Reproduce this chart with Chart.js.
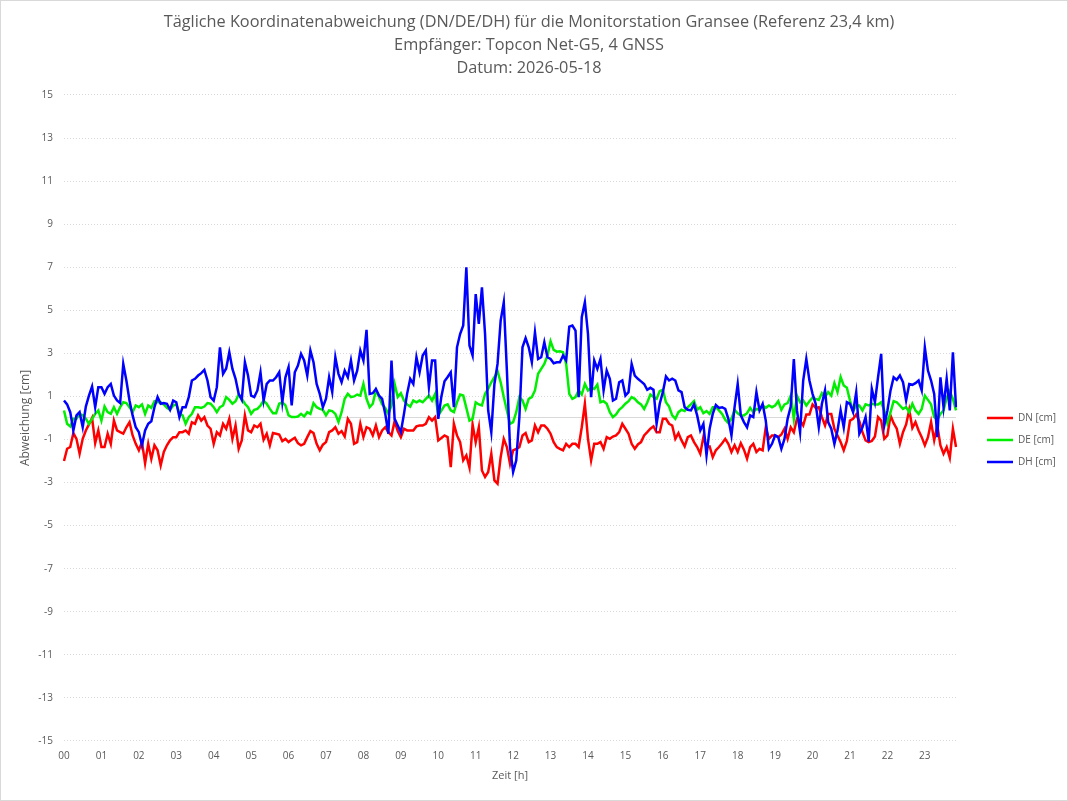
<!DOCTYPE html>
<html lang="de">
<head>
<meta charset="UTF-8">
<title>Koordinatenabweichung Gransee</title>
<script src="https://cdn.jsdelivr.net/npm/chart.js"></script>
<style>
  body { margin: 0; background: #fff; }
  #rahmen { width: 1066px; height: 799px; border: 1px solid #d9d9d9; }
</style>
</head>
<body>
<div id="rahmen"><canvas id="grafik" width="1066" height="799"></canvas></div>
<script>
// Achsenbeschriftungen
const STUNDEN = ['00','01','02','03','04','05','06','07','08','09','10','11',
                 '12','13','14','15','16','17','18','19','20','21','22','23'];
const Y_TICKS = [-15, -13, -11, -9, -7, -5, -3, -1, 0, 1, 3, 5, 7, 9, 11, 13, 15];

// Abweichungen in cm, 5-Minuten-Takt
const DN = [
  -2.0, -1.43, -1.35, -0.7, -0.97, -1.66, -0.97, -0.58, -0.3, 0.0, -1.17, -0.58,
  -1.35, -1.35, -0.73, -1.2, -0.12, -0.58, -0.66, -0.73, -0.43, -0.2, -0.81, -1.2,
  -1.5, -1.12, -2.1, -1.2, -1.9, -1.27, -1.5, -2.2, -1.58, -1.27, -1.04, -0.89,
  -0.89, -0.66, -0.66, -0.58, -0.73, -0.2, -0.27, 0.12, -0.12, 0.04, -0.35, -0.5,
  -1.2, -0.66, -0.81, -0.27, -0.5, -0.04, -0.97, -0.35, -1.43, -1.04, 0.12, -0.58,
  -0.66, -0.35, -0.43, -0.27, -1.01, -0.73, -1.27, -0.7, -0.73, -0.77, -1.07, -0.97,
  -1.12, -1.01, -0.92, -1.17, -1.27, -1.2, -0.89, -0.61, -0.7, -1.2, -1.5, -1.24,
  -1.12, -0.66, -0.58, -0.43, -0.73, -0.61, -0.86, -0.04, -0.27, -1.2, -1.12, -0.27,
  -0.89, -0.43, -0.5, -0.81, -0.35, -0.89, -0.58, -0.43, -0.66, -0.81, -0.15, -0.61,
  -0.89, -0.5, -0.58, -0.58, -0.58, -0.39, -0.35, -0.35, -0.27, 0.04, -0.12, 0.04,
  -1.04, -0.93, -0.81, -0.89, -2.28, -0.27, -0.81, -1.12, -1.97, -1.74, -2.3, -0.3,
  -1.12, -0.43, -2.44, -2.74, -2.51, -1.66, -2.9, -3.05, -1.82, -0.97, -1.35, -2.13,
  -1.5, -1.43, -1.35, -0.81, -0.7, -1.12, -1.04, -0.35, -0.66, -0.35, -0.35, -0.5,
  -0.73, -1.12, -1.35, -1.43, -1.5, -1.2, -1.35, -1.2, -1.2, -1.35, -0.43, 0.66,
  -0.97, -1.97, -1.2, -1.2, -1.12, -1.43, -0.89, -0.97, -0.86, -0.81, -0.66, -0.27,
  -0.5, -0.73, -1.2, -1.43, -1.23, -1.12, -0.81, -0.66, -0.5, -0.39, -0.66, -0.66,
  -0.04, -0.04, -0.27, -0.35, -0.97, -0.7, -1.04, -1.32, -0.89, -0.81, -1.12, -1.35,
  -1.66, -0.89, -1.35, -1.32, -1.82, -1.5, -1.35, -1.17, -0.97, -1.2, -1.58, -1.27,
  -1.58, -1.17, -1.47, -1.89, -1.35, -1.2, -1.58, -1.43, -1.5, -0.43, -0.97, -0.81,
  -0.81, -0.89, -0.77, -0.5, -0.97, -0.43, -0.66, -0.04, -0.12, -0.35, 0.16, 0.16,
  0.63, 0.47, 0.5, 0.04, -0.35, 0.19, 0.19, -0.5, -0.81, -1.12, -1.5, -1.07,
  -0.12, -0.04, 0.16, -0.15, -0.66, -1.04, -1.12, -1.07, -0.86, 0.04, -0.12, -0.97,
  -0.81, 0.12, -0.24, -0.5, -1.2, -0.66, -0.3, 0.38, -0.46, -0.19, -0.58, -0.89,
  -1.27, -0.89, -0.19, -1.04, -0.35, -1.27, -1.66, -1.35, -1.85, -0.5, -1.35
];
const DE = [
  0.35, -0.27, -0.39, -0.04, -0.04, 0.19, 0.12, -0.04, -0.27, -0.04, 0.19, 0.35,
  -0.12, 0.53, 0.27, 0.19, 0.5, 0.19, 0.5, 0.73, 0.69, 0.5, 0.27, 0.58,
  0.5, 0.63, 0.19, 0.58, 0.47, 0.78, 0.73, 0.73, 0.63, 0.47, 0.38, 0.58,
  0.63, 0.22, 0.12, -0.27, 0.04, 0.19, 0.5, 0.5, 0.47, 0.53, 0.69, 0.66,
  0.5, 0.27, 0.5, 0.58, 0.97, 0.84, 0.66, 0.78, 1.09, 0.89, 0.66, 0.5,
  0.19, 0.38, 0.42, 0.58, 0.81, 0.66, 0.42, 0.22, 0.22, 0.66, 0.73, 0.58,
  0.12, 0.04, 0.04, 0.07, 0.19, 0.07, 0.27, 0.19, 0.69, 0.5, 0.42, 0.38,
  0.12, 0.35, 0.32, 0.19, -0.19, 0.27, 0.89, 1.12, 0.97, 1.0, 1.09, 1.04,
  1.58, 0.89, 0.5, 0.66, 1.28, 0.97, 0.63, 0.47, 0.19, 0.58, 1.58, 0.97,
  1.15, 0.81, 0.63, 0.53, 0.81, 0.73, 0.81, 0.73, 0.89, 1.04, 0.81, 1.12,
  0.12, 0.34, 0.58, 0.63, 0.35, 0.27, 0.73, 1.09, 1.04, 0.47, -0.12, -0.04,
  0.73, 0.63, 0.58, 1.12, 1.35, 1.66, 1.89, 2.17, 1.66, 0.97, 0.35, -0.27,
  -0.19, 0.27, 0.97, 0.81, 0.42, 0.89, 0.97, 1.28, 2.05, 2.28, 2.51, 2.9,
  3.56, 3.16, 3.08, 3.1, 3.05, 2.51, 1.12, 0.89, 0.97, 1.28, 1.09, 1.58,
  1.28, 1.4, 1.35, 1.55, 0.73, 0.78, 0.66, 0.27, 0.04, 0.16, 0.38, 0.5,
  0.66, 0.78, 0.97, 0.89, 0.73, 0.63, 0.42, 0.72, 1.09, 0.97, 0.89, 1.24,
  1.31, 0.73, 0.53, 0.12, -0.04, 0.27, 0.38, 0.32, 0.5, 0.63, 0.78, 0.38,
  0.5, 0.22, 0.32, 0.19, 0.5, 0.5, 0.35, 0.19, -0.08, -0.24, -0.04, 0.38,
  0.22, 0.12, 0.12, 0.22, 0.47, 0.27, 0.42, 0.38, 0.58, 0.47, 0.58, 0.5,
  0.58, 0.78, 0.38, 0.63, 0.69, 1.04, -0.04, 1.04, 0.73, 0.81, 0.58, 0.78,
  0.94, 0.89, 0.84, 1.15, 0.97, 1.2, 1.04, 1.62, 1.2, 1.9, 1.51, 1.4,
  0.81, 0.32, 0.58, 0.58, 0.35, 0.63, 0.58, 0.66, 0.63, 0.63, 0.73, 0.35,
  -0.24, 0.27, 0.78, 0.73, 0.58, 0.42, 0.5, 0.27, 0.66, 0.35, 0.19, 0.42,
  1.04, 0.84, 0.63, 0.04, -0.08, 0.19, 0.35, 0.94, 1.24, 0.89, 0.35
];
const DH = [
  0.81, 0.63, 0.27, -0.58, 0.12, 0.27, -0.43, 0.53, 1.04, 1.46, 0.5, 1.43,
  1.43, 1.12, 1.43, 1.58, 1.04, 0.81, 0.69, 2.51, 1.74, 0.81, 0.12, -0.43,
  -0.66, -1.27, -0.58, -0.27, -0.15, 0.5, 0.97, 0.66, 0.69, 0.66, 0.38, 0.81,
  0.73, 0.04, 0.5, 0.5, 0.97, 1.74, 1.82, 1.97, 2.08, 2.23, 1.74, 0.97,
  0.81, 1.43, 3.28, 2.05, 2.3, 3.05, 2.28, 1.82, 1.12, 0.84, 2.59, 1.97,
  1.04, 0.97, 1.28, 2.12, 0.81, 1.58, 1.74, 1.74, 1.89, 2.12, 0.73, 1.89,
  2.36, 0.58, 2.12, 2.43, 2.98, 2.67, 1.97, 3.13, 2.59, 1.58, 1.12, 0.5,
  0.89, 1.89, 1.2, 2.82, 2.05, 1.66, 2.2, 1.89, 2.67, 1.74, 2.2, 3.13,
  2.67, 4.09, 1.12, 1.15, 1.35, 1.04, 0.89, 0.19, -0.73, 2.67, -0.04, -0.35,
  -0.66, 0.19, 1.12, 1.82, 1.58, 2.82, 2.12, 2.9, 3.13, 1.43, 2.67, 2.67,
  -0.04, 1.0, 1.7, 1.9, 2.12, 0.5, 3.28, 3.9, 4.3, 7.0, 3.36, 2.9,
  5.75, 4.37, 6.07, 3.9, 0.35, -0.66, 1.58, 2.51, 4.52, 5.37, 2.2, -1.35,
  -2.51, -1.97, 0.04, 3.28, 3.71, 3.28, 2.59, 3.98, 2.74, 2.82, 3.52, 2.82,
  2.74, 2.54, 2.59, 2.59, 2.9, 2.67, 4.24, 4.29, 4.06, 0.97, 4.68, 5.37,
  3.9, 0.97, 2.67, 2.28, 2.74, 1.28, 2.2, 1.82, 0.81, 0.89, 1.66, 1.74,
  1.04, 1.2, 2.51, 1.97, 1.82, 1.7, 1.58, 1.31, 1.4, 1.31, -0.27, 0.66,
  1.2, 1.93, 1.74, 1.82, 1.74, 1.28, 1.2, 0.5, 0.38, 0.35, 0.63, 0.12,
  -0.58, -0.27, -1.74, -0.5, 0.19, 0.6, 0.47, 0.5, 0.42, -0.04, -0.81, 0.5,
  1.58, 0.12, -0.19, -0.43, 0.12, 0.04, 1.2, 0.35, 0.66, -0.12, -1.43, -1.2,
  -0.81, -0.89, -1.43, -0.97, -0.04, 0.53, 2.74, 0.35, -0.66, 1.74, 2.74, 1.74,
  1.12, 0.66, -0.43, 0.66, 1.28, -0.19, -0.5, -1.2, -0.58, 0.35, -0.43, 0.73,
  0.66, 0.27, 1.2, -0.73, -0.43, 0.04, -1.1, 1.35, 0.73, 1.89, 2.98, -0.35,
  0.35, 1.28, 1.89, 1.77, 1.97, 1.66, 0.81, 1.58, 1.54, 1.62, 1.74, 1.28,
  3.28, 2.2, 1.74, 1.12, -0.89, 1.89, 0.5, 1.82, 0.35, 3.05, 0.5
];

// Zeitpunkte hh:mm als Kategorien
const zeiten = DN.map((_, i) => STUNDEN[Math.floor(i / 12)] + ':' + String((i % 12) * 5).padStart(2, '0'));

const GRAU = '#595959';
Chart.defaults.font.family = "'Open Sans', sans-serif";
Chart.defaults.color = GRAU;

// Legende etwas verschieben, damit sie wie im Original sitzt
const legendeVerschieben = {
    id: 'legendeVerschieben',
    afterLayout(chart) {
        const lg = chart.legend;
        const dx = 974 - lg.left;
        const dy = 22;
        lg.left += dx; lg.right += dx;
        lg.top += dy; lg.bottom += dy;
    }
};

new Chart(document.getElementById('grafik'), {
    type: 'line',
    data: {
        labels: zeiten,
        datasets: [
            { label: 'DN [cm]', data: DN, borderColor: '#ff0000', backgroundColor: '#ff0000', order: 3 },
            { label: 'DE [cm]', data: DE, borderColor: '#00ee00', backgroundColor: '#00ee00', order: 2 },
            { label: 'DH [cm]', data: DH, borderColor: '#0000ff', backgroundColor: '#0000ff', order: 1 }
        ]
    },
    options: {
        responsive: false,
        animation: false,
        elements: {
            line: { borderWidth: 2.5, tension: 0 },
            point: { radius: 0 }
        },
        layout: { padding: { left: 10, right: 20, top: 0, bottom: 18 } },
        plugins: {
            title: {
                display: true,
                text: ['Tägliche Koordinatenabweichung (DN/DE/DH) für die Monitorstation Gransee (Referenz 23,4 km)',
                       'Empfänger: Topcon Net-G5, 4 GNSS',
                       'Datum: 2026-05-18'],
                color: GRAU,
                font: { size: 16.3, weight: 'normal', lineHeight: 1.41 },
                padding: { top: 10, bottom: 15 }
            },
            legend: {
                position: 'right',
                fullSize: false,
                labels: {
                    boxWidth: 26, boxHeight: 0, padding: 12,
                    textAlign: 'left',
                    font: { size: 10 },
                    sort: (a, b) => a.datasetIndex - b.datasetIndex
                }
            },
            tooltip: { enabled: false }
        },
        scales: {
            x: {
                offset: false,
                afterFit: s => { s.height = 41; },
                grid: { display: false, drawTicks: false },
                border: { display: false },
                ticks: {
                    autoSkip: false, maxRotation: 0, minRotation: 0, padding: 9,
                    font: { size: 10 },
                    callback: (v, i) => i % 12 === 0 ? STUNDEN[i / 12] : ''
                },
                title: { display: true, text: 'Zeit [h]', font: { size: 11 }, padding: { top: 8, bottom: 0 } }
            },
            y: {
                min: -15, max: 15,
                afterBuildTicks: s => { s.ticks = Y_TICKS.map(v => ({ value: v })); },
                afterFit: s => { s.width = 53; },
                grid: {
                    drawTicks: false,
                    color: '#d9d9d9',
                    lineWidth: 1
                },
                border: {
                    display: false,
                    dash: c => (c.tick && c.tick.value === 0) ? [] : [1, 2]
                },
                ticks: {
                    padding: 11,
                    font: { size: 10 },
                    callback: v => v === 0 ? '' : v
                },
                title: { display: true, text: 'Abweichung [cm]', font: { size: 12 }, padding: { top: 7, bottom: 0 } }
            }
        }
    },
    plugins: [legendeVerschieben]
});
</script>
</body>
</html>
